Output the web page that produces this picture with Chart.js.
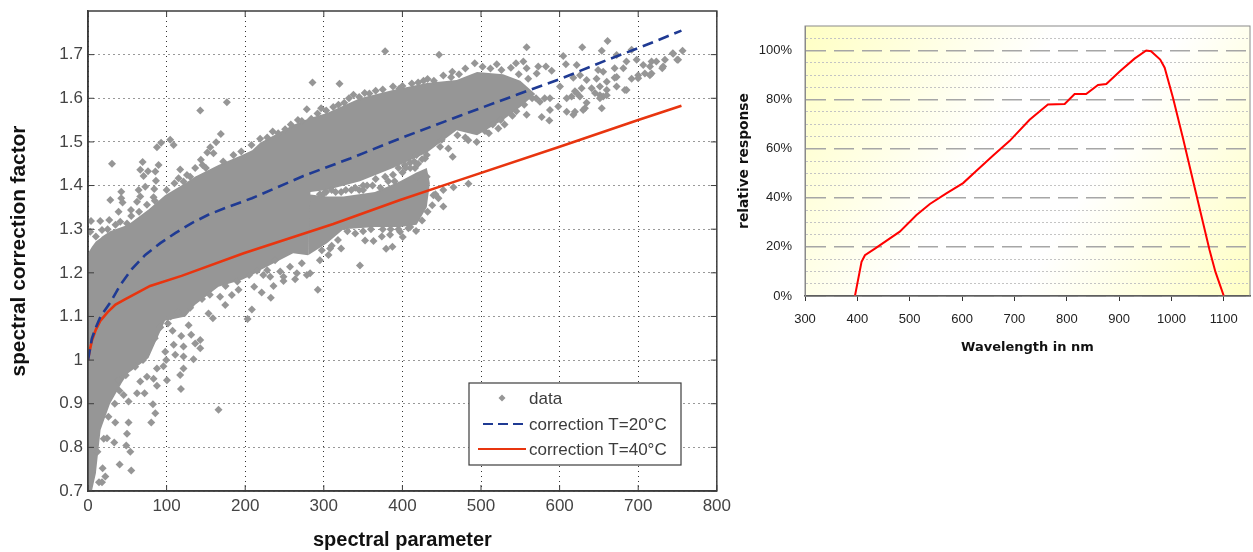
<!DOCTYPE html>
<html>
<head>
<meta charset="utf-8">
<title>spectral correction</title>
<script src="https://cdn.jsdelivr.net/npm/chart.js@4"></script>
<style>
    body { margin: 0; background: #fff; }
    canvas { position: absolute; top: 0; }
    #scatter { left: 0; }
    #response { left: 736px; }
</style>
</head>
<body>
<canvas id="scatter" width="736" height="552"></canvas>
<canvas id="response" width="517" height="355"></canvas>
<script>
// left chart
const paramTicks = [0, 100, 200, 300, 400, 500, 600, 700, 800]
const factorTicks = [0.7, 0.8, 0.9, 1, 1.1, 1.2, 1.3, 1.4, 1.5, 1.6, 1.7]

// dense part of the cloud, read as an outline
const cloudX = [0, 5, 10, 16, 18, 28, 43, 51, 77, 98, 124, 136, 166, 196, 209, 219, 261, 280, 283, 304, 346, 388, 431, 469, 495, 528, 550, 569]
const cloudTop = [1.245, 1.26, 1.272, 1.28, 1.283, 1.295, 1.305, 1.31, 1.345, 1.378, 1.406, 1.42, 1.447, 1.47, 1.481, 1.498, 1.539, 1.553, 1.555, 1.566, 1.6, 1.619, 1.635, 1.642, 1.66, 1.655, 1.64, 1.61]
const cloudBottom = [0.7, 0.7, 0.74, 0.84, 0.85, 0.9, 0.948, 0.97, 1.005, 1.09, 1.1, 1.126, 1.168, 1.184, 1.195, 1.206, 1.245, 1.24, 1.385, 1.39, 1.41, 1.44, 1.475, 1.527, 1.515, 1.55, 1.58, 1.61]
const armX = [280, 304, 325, 365, 397, 418, 431, 435]
const armTop = [1.38, 1.375, 1.375, 1.385, 1.41, 1.43, 1.44, 1.405]
const armBottom = [1.24, 1.268, 1.3, 1.305, 1.305, 1.31, 1.35, 1.405]

// single diamonds around the outline
const topPoints = [
    [30.5, 1.45], [69.5, 1.454], [87.7, 1.488], [93, 1.498], [104.6, 1.505], [108.9, 1.493], [142.8, 1.572], [176.7, 1.591],
    [169, 1.518], [163, 1.499], [155.5, 1.488], [159.7, 1.474], [151.7, 1.476], [143.6, 1.459], [117.3, 1.437], [89.8, 1.447],
    [85.6, 1.432], [66.5, 1.436], [76.3, 1.433], [70.7, 1.422], [86.4, 1.411], [115.2, 1.417], [121.5, 1.409], [136.4, 1.44],
    [145.7, 1.447], [125.9, 1.424], [72.8, 1.397], [64.4, 1.39], [84.3, 1.392], [66.5, 1.375], [42.3, 1.386], [28.4, 1.367],
    [42.3, 1.371], [44, 1.361], [38.9, 1.34], [54.7, 1.344], [83.4, 1.373], [62.3, 1.363], [75, 1.356], [27, 1.321],
    [15.6, 1.319], [3.8, 1.319], [41, 1.317], [2.9, 1.294], [17.8, 1.298], [49.6, 1.313], [208, 1.493], [219, 1.507],
    [285.6, 1.636], [320, 1.633], [278.4, 1.575], [267, 1.55], [296.6, 1.577], [337.7, 1.608], [318.6, 1.585], [358, 1.611],
    [378, 1.708], [446.6, 1.7], [463.5, 1.661], [426.8, 1.64], [235, 1.524], [250.8, 1.529], [400, 1.628], [412, 1.634]
]
const topEdgePoints = [
    [228, 1.51], [242, 1.52], [258, 1.54], [272, 1.548], [284, 1.553], [292, 1.565], [303, 1.572], [312, 1.58],
    [326, 1.59], [332, 1.6], [345, 1.603], [352, 1.612], [366, 1.617], [375, 1.62], [388, 1.627], [396, 1.622],
    [420, 1.636], [432, 1.644], [440, 1.64], [452, 1.652], [462, 1.648], [472, 1.655], [480, 1.668], [492, 1.68],
    [502, 1.672], [512, 1.668], [526, 1.665], [538, 1.67], [548, 1.655], [560, 1.645], [100, 1.39], [110, 1.405],
    [130, 1.42], [150, 1.44], [172, 1.455], [185, 1.47], [195, 1.478], [10, 1.283], [25, 1.3], [35, 1.31],
    [55, 1.33], [65, 1.34], [85, 1.365]
]
const sparsePoints = [
    [558, 1.717], [628.8, 1.717], [661, 1.731], [653.6, 1.709], [604.6, 1.697], [672.5, 1.699], [691.6, 1.711], [608, 1.678],
    [621.7, 1.676], [520, 1.678], [544.5, 1.68], [553.8, 1.684], [572.8, 1.673], [582.6, 1.673], [589.9, 1.663], [570.8, 1.657],
    [558, 1.669], [685, 1.684], [698, 1.688], [744.5, 1.702], [749.6, 1.688], [734, 1.688], [717, 1.684], [723, 1.684],
    [730.6, 1.669], [706.4, 1.676], [715, 1.673], [670, 1.669], [681, 1.669], [649, 1.665], [655.4, 1.661], [626, 1.653],
    [617.4, 1.647], [634.4, 1.642], [647, 1.645], [670, 1.647], [660, 1.638], [691.6, 1.645], [700, 1.653], [708.5, 1.657],
    [717, 1.657], [651.3, 1.627], [640.7, 1.623], [628, 1.623], [619.5, 1.616], [672.5, 1.627], [683, 1.619], [615.3, 1.604],
    [625.8, 1.604], [651.3, 1.607], [655.4, 1.604], [634.4, 1.59], [609, 1.6], [598.3, 1.581], [609, 1.569], [619.5, 1.569],
    [632.2, 1.577], [587.7, 1.573], [577.2, 1.557], [586.9, 1.549], [660, 1.619], [587.7, 1.6], [581, 1.6], [600.5, 1.627],
    [575, 1.592], [756.4, 1.709], [750.8, 1.688], [744, 1.703], [731.7, 1.673], [714.8, 1.653], [700, 1.646], [685.2, 1.619],
    [672.5, 1.649], [651.3, 1.6], [653.6, 1.577], [621.7, 1.612], [617.4, 1.562], [630, 1.573], [645, 1.612], [660, 1.607],
    [522, 1.531], [494.5, 1.5], [483.8, 1.504], [558, 1.562], [540, 1.56], [510, 1.52], [530, 1.54], [570, 1.6]
]
const lowerPoints = [
    [447.9, 1.489], [464, 1.466], [458.4, 1.485], [431, 1.47], [418, 1.47], [428.8, 1.462], [409.7, 1.452], [416, 1.44],
    [403, 1.447], [431, 1.42], [418, 1.42], [452, 1.39], [452, 1.352], [465, 1.396], [439.5, 1.378], [484, 1.404],
    [445.8, 1.371], [346, 1.217], [379.3, 1.255], [387.3, 1.26], [363.2, 1.273], [352.5, 1.274], [373.8, 1.283], [384.3, 1.287],
    [400.4, 1.282], [417.4, 1.296], [407.6, 1.302], [397, 1.294], [322, 1.256], [306, 1.241], [297.5, 1.252], [308, 1.256],
    [282.6, 1.199], [292.4, 1.161], [166, 0.886], [118.2, 0.934], [208.5, 1.116], [203, 1.094], [232.6, 1.143], [221, 1.155],
    [211.4, 1.168], [236, 1.17], [248.7, 1.181], [263.5, 1.185], [142.8, 1.027], [142.8, 1.046], [136.4, 1.038], [131.3, 1.058],
    [118.6, 1.055], [107.6, 1.067], [101.7, 1.084], [121.5, 1.031], [134.2, 1.002], [121.5, 1.008], [121.5, 0.981], [117.3, 0.966],
    [99.5, 1], [111, 1.012], [109, 1.035], [98.3, 1.019], [100.4, 0.954], [87.7, 0.941], [83.4, 0.957], [72, 0.924],
    [66.5, 0.951], [62.3, 0.924], [82.6, 0.899], [85.6, 0.878], [80.5, 0.857], [51.6, 0.857], [34.7, 0.857], [49.6, 0.831],
    [48.7, 0.804], [53.8, 0.79], [40.2, 0.761], [55, 0.747], [33.4, 0.811], [24.2, 0.821], [18.6, 0.752], [22, 0.733],
    [17.8, 0.72], [51.6, 0.905], [45.3, 0.92], [38.9, 0.954], [87.7, 0.981], [96, 0.986], [75, 0.962], [158.9, 1.096],
    [153.3, 1.107], [174.6, 1.126], [191.5, 1.161], [183, 1.149], [168, 1.145], [128, 1.08], [228, 1.206], [244.5, 1.203],
    [238, 1.229], [257, 1.214], [272, 1.222], [295, 1.229], [265.7, 1.199], [278.4, 1.195], [248.7, 1.191], [231.8, 1.191], [223, 1.195]
]
const lowerEdgePoints = [
    [12, 0.79], [14, 0.72], [20, 0.82], [26, 0.87], [34, 0.9], [40, 0.93], [48, 0.965], [60, 0.985],
    [70, 1], [85, 1.05], [92, 1.075], [105, 1.1], [115, 1.11], [130, 1.12], [145, 1.14], [155, 1.15],
    [175, 1.17], [190, 1.18], [205, 1.195], [215, 1.205], [310, 1.262], [318, 1.275], [330, 1.295], [340, 1.29],
    [350, 1.295], [360, 1.3], [375, 1.3], [385, 1.3], [395, 1.3], [410, 1.305], [425, 1.32], [432, 1.34],
    [438, 1.355], [442, 1.38], [450, 1.505], [470, 1.515], [480, 1.51], [505, 1.525], [515, 1.54], [525, 1.55],
    [545, 1.57], [555, 1.585], [565, 1.6]
]
// the thin sparse strip between the two arms of the cloud
const gapPoints = [
    [295, 1.38], [303, 1.385], [310, 1.39], [322, 1.385], [335, 1.39], [345, 1.39], [355, 1.4], [372, 1.395],
    [366, 1.415], [378, 1.42], [390, 1.41], [400, 1.43], [395, 1.44], [410, 1.44], [415, 1.455], [425, 1.46],
    [300, 1.382], [315, 1.385], [328, 1.39], [340, 1.395], [350, 1.4], [362, 1.4], [350, 1.39], [382, 1.41],
    [388, 1.425], [404, 1.44], [420, 1.45]
]

const t20X = [0, 5, 10, 16, 28.4, 41, 56, 72.8, 92, 111, 132, 153, 176.7, 208.5, 219, 274, 333.5, 397, 473.3, 545.4, 600.5, 660.7, 704.3, 755]
const t20Y = [1, 1.05, 1.075, 1.1, 1.132, 1.172, 1.209, 1.241, 1.268, 1.291, 1.314, 1.333, 1.35, 1.371, 1.379, 1.422, 1.462, 1.508, 1.56, 1.608, 1.644, 1.688, 1.718, 1.755]
const t40X = [0, 2, 5, 10, 15.6, 25, 35, 47, 79, 119, 198, 312, 397, 460, 600, 700, 755]
const t40Y = [1, 1.02, 1.045, 1.07, 1.09, 1.11, 1.127, 1.139, 1.17, 1.193, 1.245, 1.312, 1.367, 1.405, 1.489, 1.55, 1.583]

// right chart
const waveTicks = [300, 400, 500, 600, 700, 800, 900, 1000, 1100]
const responseTicks = [0, 5, 10, 15, 20, 25, 30, 35, 40, 45, 50, 55, 60, 65, 70, 75, 80, 85, 90, 95, 100, 105]
const waveX = [395.4, 408, 414.5, 433.6, 481, 513, 538.5, 570, 602, 627.5, 659.3, 691, 729, 764, 796, 815, 837, 859.7, 875.5, 901, 929.4, 951.8, 961, 978.5, 987, 1003, 1022, 1047, 1072.7, 1084, 1100]
const responseY = [0, 13.9, 16.6, 19.3, 26.2, 33, 37.5, 41.8, 46, 51, 57.2, 63.2, 71.8, 78, 78.2, 82.3, 82.3, 86, 86.4, 91.5, 96.7, 100, 99.7, 96.3, 93, 80.7, 64.3, 41.8, 18.7, 9.8, 0]

const GRAY = '#969696'
const tickFont = {family: '"Liberation Sans"', size: 17}

function zip(xs, ys) {
    return xs.map((x, i) => ({x: x, y: ys[i]}))
}

function pairs(list) {
    return list.map(p => ({x: p[0], y: p[1]}))
}

function band(xs, ys, fill) {
    return {
        data: zip(xs, ys),
        showLine: true,
        borderWidth: 0,
        pointRadius: 0,
        backgroundColor: GRAY,
        fill: fill
    }
}

// frame and the short inward ticks of the left plot
const framePlugin = {
    id: 'frame',
    afterDatasetsDraw(chart) {
        const {ctx, chartArea: a, scales} = chart
        ctx.save()
        ctx.strokeStyle = '#3c3c3c'
        ctx.lineWidth = 1.5
        ctx.strokeRect(a.left, a.top, a.right - a.left, a.bottom - a.top)
        ctx.lineWidth = 1
        ctx.beginPath()
        for (const t of scales.x.ticks) {
            const p = scales.x.getPixelForValue(t.value)
            ctx.moveTo(p, a.bottom)
            ctx.lineTo(p, a.bottom - 6)
            ctx.moveTo(p, a.top)
            ctx.lineTo(p, a.top + 6)
        }
        for (const t of scales.y.ticks) {
            const p = scales.y.getPixelForValue(t.value)
            ctx.moveTo(a.left, p)
            ctx.lineTo(a.left + 6, p)
            ctx.moveTo(a.right, p)
            ctx.lineTo(a.right - 6, p)
        }
        ctx.stroke()
        ctx.restore()
    }
}

const legendPlugin = {
    id: 'boxLegend',
    afterDraw(chart) {
        const ctx = chart.ctx
        ctx.save()
        ctx.fillStyle = '#fff'
        ctx.fillRect(469, 383, 212, 82)
        ctx.strokeStyle = '#3c3c3c'
        ctx.lineWidth = 1.2
        ctx.strokeRect(469, 383, 212, 82)
        ctx.fillStyle = GRAY
        ctx.beginPath()
        ctx.moveTo(502, 394.5)
        ctx.lineTo(505.5, 398)
        ctx.lineTo(502, 401.5)
        ctx.lineTo(498.5, 398)
        ctx.fill()
        ctx.lineWidth = 2.2
        ctx.strokeStyle = '#1f3a93'
        ctx.setLineDash([10, 5])
        ctx.beginPath()
        ctx.moveTo(483, 424)
        ctx.lineTo(526, 424)
        ctx.stroke()
        ctx.setLineDash([])
        ctx.strokeStyle = '#e8350f'
        ctx.beginPath()
        ctx.moveTo(478, 449)
        ctx.lineTo(526, 449)
        ctx.stroke()
        ctx.fillStyle = '#3c3c3c'
        ctx.font = '17px "Liberation Sans"'
        ctx.textBaseline = 'middle'
        ctx.fillText('data', 529, 399)
        ctx.fillText('correction T=20°C', 529, 425)
        ctx.fillText('correction T=40°C', 529, 450)
        ctx.restore()
    }
}

// first dataset is painted last, so the curves come first here
new Chart(document.getElementById('scatter'), {
    type: 'scatter',
    data: {
        datasets: [
            {
                label: 'correction T=20°C',
                data: zip(t20X, t20Y),
                showLine: true,
                pointRadius: 0,
                borderColor: '#1f3a93',
                borderWidth: 2.6,
                borderDash: [11, 6]
            },
            {
                label: 'correction T=40°C',
                data: zip(t40X, t40Y),
                showLine: true,
                pointRadius: 0,
                borderColor: '#e8350f',
                borderWidth: 2.6
            },
            {
                label: 'data',
                data: pairs(topPoints.concat(topEdgePoints, sparsePoints, lowerPoints, lowerEdgePoints, gapPoints)),
                pointStyle: 'rectRot',
                pointRadius: 4,
                borderWidth: 0,
                backgroundColor: GRAY
            },
            band(cloudX, cloudTop, '+1'),
            band(cloudX, cloudBottom, false),
            band(armX, armTop, '+1'),
            band(armX, armBottom, false)
        ]
    },
    options: {
        responsive: false,
        animation: false,
        layout: {padding: {top: 11, right: 19}},
        plugins: {legend: {display: false}, tooltip: {enabled: false}},
        scales: {
            x: {
                type: 'linear',
                min: 0,
                max: 800,
                afterBuildTicks: s => { s.ticks = paramTicks.map(v => ({value: v})) },
                afterFit: s => { s.height = 61 },
                grid: {color: '#333', tickLength: 0},
                border: {dash: [1, 4], color: '#3c3c3c', width: 1.5},
                ticks: {color: '#444', font: tickFont, padding: 5, maxRotation: 0},
                title: {
                    display: true,
                    text: 'spectral parameter',
                    color: '#111',
                    font: {family: '"Liberation Sans"', size: 20, weight: 'bold'},
                    padding: {top: 0, bottom: 0}
                }
            },
            y: {
                min: 0.7,
                max: 1.8,
                afterBuildTicks: s => { s.ticks = factorTicks.map(v => ({value: v})) },
                afterFit: s => {
                    s.width = 88
                    s.paddingTop = 0
                },
                grid: {color: '#333', tickLength: 0},
                border: {dash: [1, 4], color: '#3c3c3c', width: 1.5},
                ticks: {
                    color: '#444',
                    font: tickFont,
                    padding: 5,
                    callback: v => String(Number(v.toFixed(1)))
                },
                title: {
                    display: true,
                    text: 'spectral correction factor',
                    color: '#111',
                    font: {family: '"Liberation Sans"', size: 20.8, weight: 'bold'},
                    padding: {top: 7, bottom: 0}
                }
            }
        }
    },
    plugins: [framePlugin, legendPlugin]
})

const gradientPlugin = {
    id: 'paper',
    beforeDraw(chart) {
        const {ctx, chartArea: a} = chart
        const g = ctx.createLinearGradient(a.left, a.top, a.right, a.bottom)
        g.addColorStop(0, '#ffffc4')
        g.addColorStop(0.42, '#ffffff')
        g.addColorStop(0.62, '#ffffff')
        g.addColorStop(1, '#ffffc4')
        ctx.fillStyle = g
        ctx.fillRect(a.left, a.top, a.right - a.left, a.bottom - a.top)
    },
    afterDatasetsDraw(chart) {
        const {ctx, chartArea: a} = chart
        ctx.save()
        ctx.strokeStyle = '#8a8a8a'
        ctx.lineWidth = 1
        ctx.strokeRect(a.left, a.top, a.right - a.left, a.bottom - a.top)
        ctx.restore()
    }
}

new Chart(document.getElementById('response'), {
    type: 'scatter',
    data: {
        datasets: [{
            label: 'relative response',
            data: zip(waveX, responseY),
            showLine: true,
            pointRadius: 0,
            borderColor: '#ff0000',
            borderWidth: 2
        }]
    },
    options: {
        responsive: false,
        animation: false,
        layout: {padding: {top: 26, right: 3}},
        plugins: {legend: {display: false}, tooltip: {enabled: false}},
        scales: {
            x: {
                type: 'linear',
                min: 300,
                max: 1150,
                afterBuildTicks: s => { s.ticks = waveTicks.map(v => ({value: v})) },
                afterFit: s => { s.height = 59 },
                grid: {drawOnChartArea: false, color: '#333', tickLength: 5},
                border: {color: '#333', width: 1.5},
                ticks: {
                    color: '#222',
                    font: {family: '"Liberation Sans"', size: 13},
                    padding: 11,
                    maxRotation: 0,
                    callback: v => String(v)
                },
                title: {
                    display: true,
                    text: 'Wavelength in nm',
                    color: '#111',
                    font: {family: '"DejaVu Sans"', size: 13, weight: 'bold'},
                    padding: {top: 0, bottom: 0}
                }
            },
            y: {
                min: 0,
                max: 110,
                afterBuildTicks: s => { s.ticks = responseTicks.map(v => ({value: v})) },
                afterFit: s => { s.width = 69 },
                grid: {
                    color: c => (c.tick && c.tick.value % 20 === 0 ? '#a6a6a6' : '#c4c4c4'),
                    lineWidth: c => (c.tick && c.tick.value % 20 === 0 ? 1.5 : 1),
                    tickLength: 0
                },
                border: {
                    dash: c => (c.tick && c.tick.value % 20 === 0 ? [20, 8] : [2, 2]),
                    color: '#8a8a8a'
                },
                ticks: {
                    color: '#222',
                    font: {family: '"Liberation Sans"', size: 13},
                    padding: 13,
                    autoSkip: false,
                    callback: v => (v % 20 === 0 ? v + '%' : '')
                },
                title: {
                    display: true,
                    text: 'relative response',
                    color: '#111',
                    font: {family: '"DejaVu Sans"', size: 13.8, weight: 'bold'},
                    padding: {top: 0, bottom: 0}
                }
            }
        }
    },
    plugins: [gradientPlugin]
})
</script>
</body>
</html>
